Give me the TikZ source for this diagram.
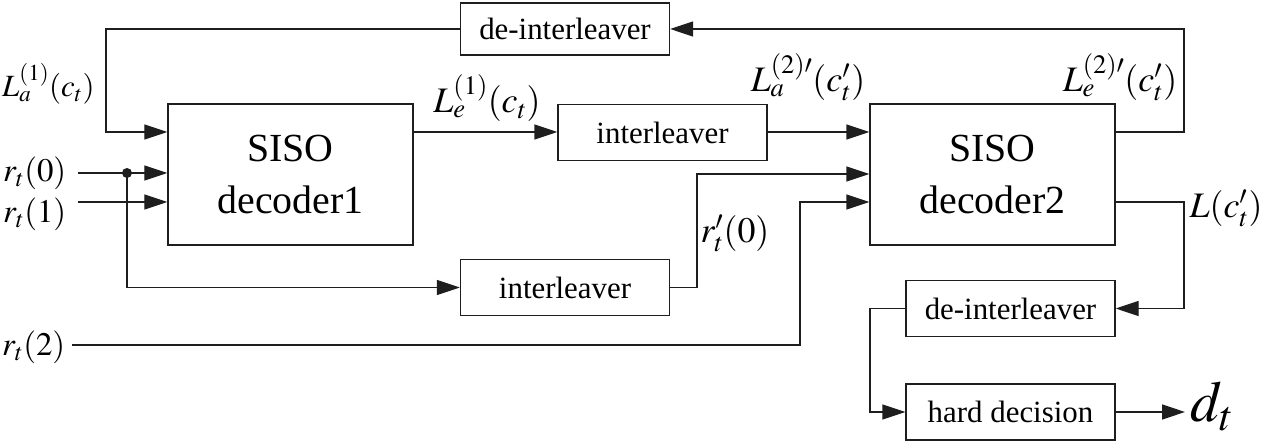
\documentclass[tikz,border=0pt]{standalone}
\usepackage{mathptmx}
\usepackage{fontspec}
\setmainfont{Liberation Serif}
\usetikzlibrary{arrows.meta, positioning, calc}
\definecolor{mydark}{RGB}{30,30,30}
\tikzset{
  bigbox/.style={rectangle, draw=mydark, line width=1.4bp, minimum width=245bp,
    minimum height=141bp, align=center, inner sep=0pt,
    font=\fontsize{40}{52}\selectfont},
  smallbox/.style={rectangle, draw=mydark, line width=1.4bp, minimum width=209bp,
    minimum height=56bp, inner sep=0pt, font=\fontsize{31}{34}\selectfont},
  arrow/.style={-{Triangle[length=23bp,width=15bp]}, line width=1.4bp, color=mydark},
  line/.style={line width=1.4bp, color=mydark},
  siglabel/.style={inner sep=0pt, font=\fontsize{36}{40}\selectfont},
  inlabel/.style={inner sep=0pt, anchor=base west, font=\fontsize{33}{36}\selectfont}
}

\begin{document}
\begin{tikzpicture}[x=1bp, y=-1bp]
    \useasboundingbox (0,0) rectangle (1269,444);

    % Decoders
    \node[bigbox] (dec1) at (290.5,174.5) {SISO\\decoder1};
    \node[bigbox] (dec2) at (992.5,174.5) {SISO\\decoder2};

    % Interleavers
    \node[smallbox, minimum height=52bp] (deint1) at (565,29) {de-interleaver};
    \node[smallbox] (intl1) at (662.5,132.5) {interleaver};
    \node[smallbox] (intl2) at (565,287.5) {interleaver};
    \node[smallbox] (deint2) at (1010.5,308.5) {de-interleaver};
    \node[smallbox] (hard) at (1010.5,412) {hard decision};

    % Corner points
    \coordinate (fbL) at (106,132);
    \coordinate (fbR) at (1184,29);
    \coordinate (fbD) at (1184,308.5);
    \coordinate (in0) at (78,173);
    \coordinate (in1) at (78,202);
    \coordinate (in2) at (72,345);
    \coordinate (tap) at (127,173);
    \coordinate (j1) at (697,174);
    \coordinate (j2) at (800,202);
    \coordinate (j3) at (870,412);
    \coordinate (out) at (1185,412);

    % Labels
    \node[inlabel, font=\fontsize{31}{34}\selectfont] (la1) at (2,97) {$L_a^{(1)}(c_t)$};
    \node[inlabel] (r0) at (3,182) {$r_t(0)$};
    \node[inlabel] (r1) at (3,223) {$r_t(1)$};
    \node[inlabel] (r2) at (2,356) {$r_t(2)$};
    \node[siglabel, anchor=base] (le1) at (487,113) {$L_e^{(1)}(c_t)$};
    \node[siglabel, anchor=base] (la2) at (808,92) {$L_a^{(2)\prime}(c_t')$};
    \node[siglabel, anchor=base] (le2) at (1120,92) {$L_e^{(2)\prime}(c_t')$};
    \node[siglabel, anchor=base] (r0p) at (735,243) {$r_t'(0)$};
    \node[siglabel, anchor=base] (lc) at (1226,218) {$L(c_t')$};
    \node[inner sep=0pt, anchor=base west, font=\fontsize{58}{62}\selectfont] (dt) at (1190,422) {$d_t$};

    % Decoder 1 inputs
    \draw[arrow] (deint1.west) -| (fbL) -- (dec1.west |- fbL);
    \draw[arrow] (in0) -- (dec1.west |- in0);
    \draw[arrow] (in1) -- (dec1.west |- in1);
    \fill[mydark] (tap) circle (5bp);
    \draw[arrow] (tap) |- (intl2.west);

    % Decoder 2 inputs
    \draw[arrow] (dec1.east |- fbL) -- (intl1.west |- fbL);
    \draw[arrow] (intl1.east |- fbL) -- (dec2.west |- fbL);
    \draw[arrow] (intl2.east) -| (j1) -- (dec2.west |- j1);
    \draw[arrow] (in2) -| (j2) -- (dec2.west |- j2);

    % Decoder 2 outputs
    \draw[arrow] (dec2.east |- fbL) -| (fbR) -- (deint1.east);
    \draw[arrow] (dec2.east |- j2) -| (fbD) -- (deint2.east);
    \draw[arrow] (deint2.west) -| (j3) -- (hard.west);
    \draw[arrow] (hard.east) -- (out);
\end{tikzpicture}
\end{document}
